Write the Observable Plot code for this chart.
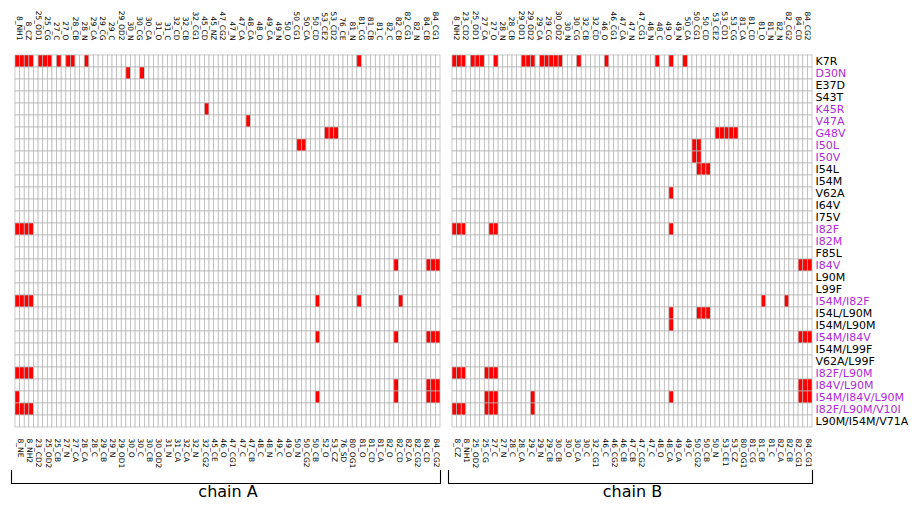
<!DOCTYPE html>
<html><head><meta charset="utf-8">
<script src="https://cdn.jsdelivr.net/npm/d3@7"></script>
<script src="https://cdn.jsdelivr.net/npm/@observablehq/plot@0.6"></script>
<style>
html,body{margin:0;padding:0;background:#fff;}
#wrap{position:relative;width:917px;height:506px;overflow:hidden;}
#wrap svg{position:absolute;top:0;background:transparent;}
</style></head><body><div id="wrap"></div>
<script>
const rows = ["K7R","D30N","E37D","S43T","K45R","V47A","G48V","I50L","I50V","I54L","I54M","V62A","I64V","I75V","I82F","I82M","F85L","I84V","L90M","L99F","I54M/I82F","I54L/L90M","I54M/L90M","I54M/I84V","I54M/L99F","V62A/L99F","I82F/L90M","I84V/L90M","I54M/I84V/L90M","I82F/L90M/V10I","L90M/I54M/V71A"];
const purpleRows = ["D30N","K45R","V47A","G48V","I50L","I50V","I82F","I82M","I84V","I54M/I82F","I54M/I84V","I82F/L90M","I84V/L90M","I54M/I84V/L90M","I82F/L90M/V10I"];
const colsA = ["8_NE","8_NH1","8_NH2","8_CZ","23_CD2","25_OD1","25_OD2","25_CG","25_CB","27_C","27_N","27_O","27_CA","28_CB","28_CA","28_N","28_C","29_CA","29_CB","29_CG","29_N","29_C","29_OD1","29_OD2","30_O","30_N","30_C","30_CG","30_CB","30_CA","30_OD2","31_O","31_N","31_C","31_CA","32_CD","32_CA","32_CB","32_N","32_CG1","32_CG2","45_CD","45_CE","45_NZ","46_O","47_CG2","47_CG1","47_N","47_C","47_CA","47_CB","48_CA","48_C","48_O","48_N","49_CA","49_C","49_N","49_O","50_O","50_N","50_CG1","50_CG2","50_CA","50_CB","50_CD","52_O","53_CE2","53_CZ","53_CD2","76_SD","76_CE","80_OG1","81_N","81_O","81_CG","81_CD","81_CB","81_CA","81_C","82_O","82_C","82_CD","82_CB","82_CA","82_CG1","82_CG2","82_N","84_CD","84_CB","84_CG2","84_CG1"];
const colsB = ["8_CZ","8_NH2","8_NH1","23_CD2","25_OD2","25_OD1","25_CG","27_CA","27_C","27_O","27_N","28_N","28_C","28_CB","28_CA","29_OD1","29_C","29_OD2","29_N","29_CA","29_CB","29_CG","30_CB","30_OD2","30_O","30_N","30_CA","30_CG","30_C","32_CB","32_CG1","32_CD","46_C","46_O","46_CG2","46_CG1","46_CB","47_CA","47_CB","47_N","47_CG2","47_CG1","47_C","48_N","48_O","48_C","48_CA","49_O","49_CA","49_N","49_C","50_CA","50_CG2","50_CG1","50_CB","50_CD","50_N","53_CE2","53_CE1","53_CD1","53_CZ","53_CG","80_OG1","81_CA","81_CG","81_CD","81_CB","81_O","81_C","81_N","82_CA","82_N","82_CB","82_CG2","82_CG1","84_CD","84_CG1","84_CG2"];
// red cells per row (same order as rows)
const hitsA = [
  ["8_NE","8_NH1","8_NH2","8_CZ","25_OD1","25_OD2","25_CG","27_C","27_O","27_CA","28_N","81_O"],
  ["30_O","30_CG"], [], [], ["45_CD"], ["47_CB"],
  ["53_CE2","53_CZ","53_CD2"], ["50_CG1","50_CG2"], [], [], [], [], [], [],
  ["8_NE","8_NH1","8_NH2","8_CZ"], [], [],
  ["82_CD","84_CB","84_CG2","84_CG1"], [], [],
  ["8_NE","8_NH1","8_NH2","8_CZ","50_CD","81_O","82_CB"], [], [],
  ["50_CD","82_CD","84_CB","84_CG2","84_CG1"], [], [],
  ["8_NE","8_NH1","8_NH2","8_CZ"],
  ["82_CD","84_CB","84_CG2","84_CG1"],
  ["8_NE","50_CD","82_CD","84_CB","84_CG2","84_CG1"],
  ["8_NE","8_NH1","8_NH2","8_CZ"], []
];
const hitsB = [
  ["8_CZ","8_NH2","8_NH1","25_OD2","25_OD1","25_CG","27_O","29_OD1","29_C","29_OD2","29_CA","29_CB","29_CG","30_CB","30_OD2","30_CG","46_O","48_O","49_O","49_C"],
  [], [], [], [], [],
  ["53_CE2","53_CE1","53_CD1","53_CZ","53_CG"],
  ["50_CG2","50_CG1"], ["50_CG2","50_CG1"], ["50_CG1","50_CB","50_CD"], [],
  ["49_O"], [], [],
  ["8_CZ","8_NH2","8_NH1","27_C","27_O","49_O"], [], [],
  ["84_CD","84_CG1","84_CG2"], [], [],
  ["81_O","82_CB"], ["49_O","50_CG1","50_CB","50_CD"], ["49_O"],
  ["84_CD","84_CG1","84_CG2"], [], [],
  ["8_CZ","8_NH2","8_NH1","27_CA","27_C","27_O"],
  ["84_CD","84_CG1","84_CG2"],
  ["27_CA","27_C","27_O","29_OD2","49_O","84_CD","84_CG1","84_CG2"],
  ["8_CZ","8_NH2","8_NH1","27_CA","27_C","27_O","29_OD2"], []
];
const chainNames = ["chain A", "chain B"];
const PURPLE = "#b02ad8";
const FONT = "DejaVu Sans";

function chain(cols, hits, name, opt) {
  const cells = rows.flatMap((r, i) => cols.map(c => ({row: r, col: c, on: hits[i].includes(c)})));
  const top = cols.filter((c, i) => i % 2 === 1);
  const bottom = cols.filter((c, i) => i % 2 === 0);
  const marks = [
    Plot.cell(cells, {x: "col", y: "row", fill: d => d.on ? "#ff0000" : "#ffffff", stroke: "#b4b4b4", strokeWidth: 0.7}),
    Plot.text(top, {x: d => d, frameAnchor: "top", rotate: 90, textAnchor: "end", dy: -7, fontSize: 7.5, fill: "#000"}),
    Plot.text(bottom, {x: d => d, frameAnchor: "bottom", rotate: 90, textAnchor: "start", dy: 3, fontSize: 7.5, fill: "#000"}),
    Plot.text([name], {frameAnchor: "bottom", dy: 61, fontSize: 16, fill: "#000"})
  ];
  if (opt.rowLabels) marks.push(Plot.text(rows, {y: d => d, frameAnchor: "right", textAnchor: "start", dx: 3, fontSize: 11,
    fill: d => purpleRows.includes(d) ? PURPLE : "#000000"}));
  const svg = Plot.plot({
    width: opt.width, height: 506, marginTop: 47, marginBottom: 71, marginLeft: opt.ml, marginRight: opt.mr,
    x: {domain: cols, padding: 0, axis: null},
    y: {domain: rows, padding: 0, axis: null},
    style: {fontFamily: FONT, background: "transparent", overflow: "visible"},
    marks
  });
  const xs = svg.scale("x");
  const x0 = xs.apply(cols[0]) - 3.5;
  const x1 = xs.apply(cols[cols.length - 1]) + xs.bandwidth + 0.5;
  d3.select(svg).append("path")
    .attr("d", `M${x0},470V483.5H${x1}V470`)
    .attr("fill", "none").attr("stroke", "#000").attr("stroke-width", 1.1);
  svg.style.left = opt.left + "px";
  return svg;
}
const wrap = document.getElementById("wrap");
wrap.appendChild(chain(colsA, hitsA, chainNames[0], {width: 445, ml: 15, mr: 5, left: 0}));
wrap.appendChild(chain(colsB, hitsB, chainNames[1], {width: 474, ml: 9, mr: 105, left: 443, rowLabels: true}));
</script></body></html>
